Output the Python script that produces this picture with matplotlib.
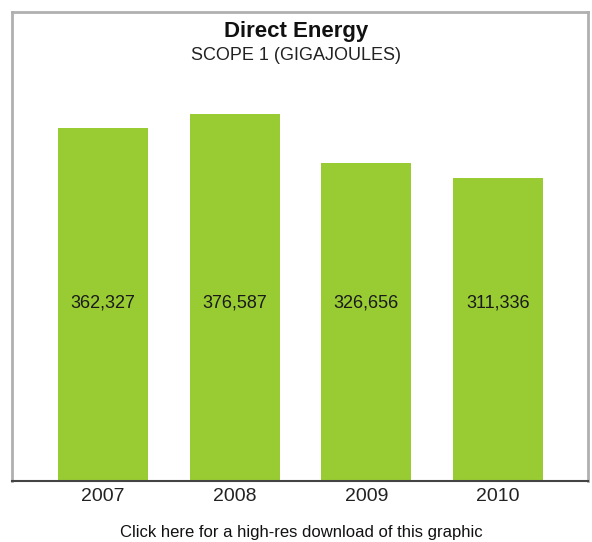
import matplotlib.pyplot as plt
import numpy as np

plt.rcParams['font.family'] = ['Liberation Sans', 'DejaVu Sans']

years = ['2007', '2008', '2009', '2010']
energy_gj = [362327, 376587, 326656, 311336]

fig = plt.figure(figsize=(5.92, 5.42), dpi=100)
# box spans the framed area of the graphic
ax = fig.add_axes([12 / 592, 1 - 481 / 542, 576 / 592, 469 / 542])

x = np.arange(len(years))
ax.bar(x, energy_gj, width=0.684, color='#99cc33', zorder=2)

for xi, v in zip(x, energy_gj):
    ax.text(xi, 183000, f'{v:,}', ha='center', va='center',
            fontsize=13, color='#1a1a1a')

ax.set_xlim(-0.691, 3.683)
ax.set_ylim(0, 481500)
ax.set_xticks(x)
ax.set_xticklabels(years, fontsize=14, color='#222222')
ax.tick_params(axis='x', length=0, pad=5)
ax.set_yticks([])

for side in ['left', 'right', 'top']:
    ax.spines[side].set_color('#b0b0b0')
    ax.spines[side].set_linewidth(2)
ax.spines['bottom'].set_color('#444444')
ax.spines['bottom'].set_linewidth(1.5)

fig.text(0.5, 1 - 32 / 542, 'Direct Energy', ha='center', va='center',
         fontsize=16, fontweight='bold', color='#111111')
fig.text(0.5, 1 - 55 / 542, 'SCOPE 1 (GIGAJOULES)', ha='center', va='center',
         fontsize=13, color='#222222')
fig.text(301 / 592, 1 - 532 / 542, 'Click here for a high-res download of this graphic',
         ha='center', va='center', fontsize=12, color='#111111')

fig.savefig('out.png', dpi=100)
